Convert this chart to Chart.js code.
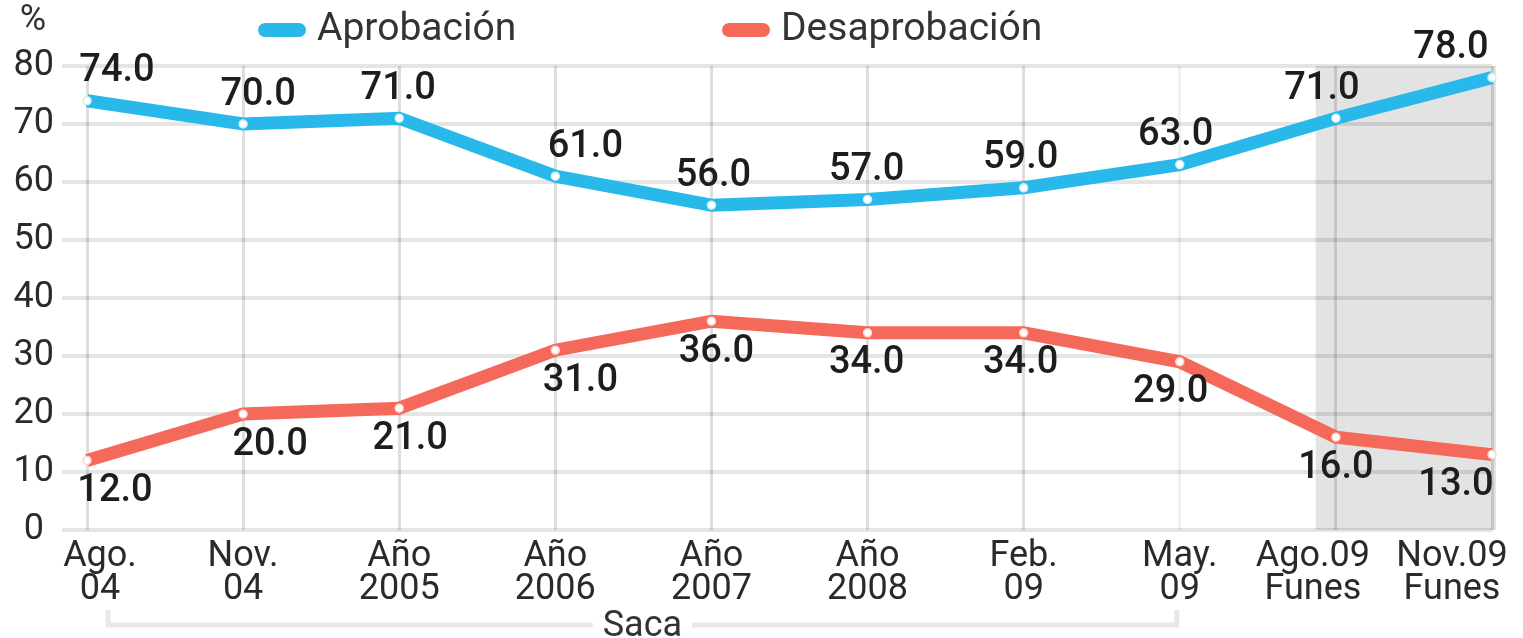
<!DOCTYPE html>
<html>
<head>
<meta charset="utf-8">
<script src="https://cdn.jsdelivr.net/npm/chart.js@4.4.1/dist/chart.umd.min.js"></script>
<style>
html,body{margin:0;padding:0;background:#fff;}
#wrap{width:1523px;height:638px;position:relative;}
</style>
</head>
<body>
<div id="wrap"><canvas id="c" width="1523" height="638"></canvas></div>
<script>
// ---- data ----
const categories = [["Ago.","04"],["Nov.","04"],["Año","2005"],["Año","2006"],["Año","2007"],["Año","2008"],["Feb.","09"],["May.","09"],["Ago.09","Funes"],["Nov.09","Funes"]];
const aprobacion = [74,70,71,61,56,57,59,63,71,78];
const desaprobacion = [12,20,21,31,36,34,34,29,16,13];
const yTicks = [0,10,20,30,40,50,60,70,80];
const seriesNames = ["Aprobación","Desaprobación"];
const bracketLabel = "Saca";

// ---- style ----
const FONT = "Roboto, 'Open Sans', sans-serif";
const BLUE = "#29b8ea";
const RED = "#f4695a";
const TEXT = "#1d1d1d";
const labelShiftApro = [30,15,-1,30,2,-1,-3,-4,-14,-41];
const labelShiftDesa = [28,27,11,25,5,-1,-3,-9,0,-36];
const tickShift = {0: 13, 8: -23, 9: -40};

const shadePlugin = {
  id: 'shade',
  beforeDraw(chart){
    const {ctx, chartArea:a, scales:{x}} = chart;
    const x8 = x.getPixelForValue(8), x9 = x.getPixelForValue(9);
    const left = x8 - (x9 - x8)*0.13;
    ctx.save();
    ctx.fillStyle = "#e3e3e3";
    ctx.fillRect(left, a.top, a.right - left + 4, a.bottom - a.top);
    ctx.restore();
    // nudge tick labels, as placed in the original
    const items = x.getLabelItems();
    items.forEach((it, i) => {
      if (tickShift[i] && !it._shifted) {
        it.options.translation[0] += tickShift[i];
        it._shifted = true;
      }
    });
  }
};

const labelPlugin = {
  id: 'vlabels',
  afterDatasetsDraw(chart){
    const ctx = chart.ctx;
    ctx.save();
    ctx.font = "500 38px " + FONT;
    ctx.fillStyle = TEXT;
    ctx.textAlign = "center";
    ctx.textBaseline = "middle";
    chart.data.datasets.forEach((ds, di) => {
      const meta = chart.getDatasetMeta(di);
      meta.data.forEach((pt, i) => {
        const shift = di === 0 ? labelShiftApro[i] : labelShiftDesa[i];
        const dy = di === 0 ? -29 : 31;
        ctx.fillText(ds.data[i].toFixed(1), pt.x + shift, pt.y + dy);
      });
    });
    ctx.restore();
  }
};

const decoPlugin = {
  id: 'deco',
  afterDraw(chart){
    const {ctx, scales:{x}} = chart;
    ctx.save();
    // percent sign
    ctx.font = "400 36px " + FONT;
    ctx.fillStyle = "#333";
    ctx.textAlign = "center";
    ctx.textBaseline = "middle";
    ctx.fillText("%", 33, 21);
    // legend
    const items = [{c:BLUE, t:seriesNames[0], x:258},{c:RED, t:seriesNames[1], x:722}];
    ctx.font = "400 39px " + FONT;
    ctx.textAlign = "left";
    items.forEach(it => {
      ctx.fillStyle = it.c;
      ctx.beginPath();
      ctx.roundRect(it.x, 23, 48, 14, 7);
      ctx.fill();
      ctx.fillStyle = "#333";
      ctx.fillText(it.t, it.x + 59, 30);
    });
    // bracket
    const xl = x.getPixelForValue(0) + 21, xr = x.getPixelForValue(7) - 3;
    const y = 625;
    ctx.font = "400 36px " + FONT;
    ctx.textAlign = "center";
    const mid = (xl + xr)/2;
    const tw = ctx.measureText(bracketLabel).width;
    ctx.strokeStyle = "#e8e8e8";
    ctx.lineWidth = 5;
    ctx.beginPath();
    ctx.moveTo(xl, 610); ctx.lineTo(xl, y); ctx.lineTo(mid - tw/2 - 10, y);
    ctx.moveTo(mid + tw/2 + 10, y); ctx.lineTo(xr, y); ctx.lineTo(xr, 610);
    ctx.stroke();
    ctx.fillStyle = "#333";
    ctx.fillText(bracketLabel, mid, y + 2);
    ctx.restore();
  }
};

new Chart(document.getElementById('c'), {
  type: 'line',
  data: {
    labels: categories,
    datasets: [
      { label: seriesNames[0], data: aprobacion, borderColor: BLUE, backgroundColor: BLUE,
        borderWidth: 13, tension: 0, pointRadius: 4, pointBackgroundColor: "#fff",
        pointBorderColor: "#c9eefa", pointBorderWidth: 1.5 },
      { label: seriesNames[1], data: desaprobacion, borderColor: RED, backgroundColor: RED,
        borderWidth: 13, tension: 0, pointRadius: 4, pointBackgroundColor: "#fff",
        pointBorderColor: "#fdd3ce", pointBorderWidth: 1.5 }
    ]
  },
  options: {
    responsive: false,
    animation: false,
    layout: { padding: { top: 66, right: 31, left: 0, bottom: 0 } },
    plugins: { legend: { display: false }, tooltip: { enabled: false } },
    scales: {
      x: {
        offset: false,
        grid: { drawTicks: false, lineWidth: 3,
          color: ctx => ctx.index === 7 ? "rgba(0,0,0,0.06)" : "rgba(0,0,0,0.13)" },
        border: { display: false },
        ticks: { autoSkip: false, maxRotation: 0, padding: 10, color: "#2a2a2a",
          font: { family: FONT, size: 36, weight: 400, lineHeight: 0.92 } },
        afterFit(s){ s.height = 108; s.paddingLeft = 0; s.paddingRight = 0; }
      },
      y: {
        min: 0, max: 80,
        afterBuildTicks(s){ s.ticks = yTicks.map(v => ({value: v})); },
        grid: { drawTicks: true, tickLength: 25, lineWidth: 4, color: "rgba(0,0,0,0.1)" },
        border: { display: false },
        ticks: { crossAlign: 'center', padding: 8, color: "#2a2a2a",
          font: { family: FONT, size: 36, weight: 400 } },
        afterFit(s){ s.width = 87; }
      }
    }
  },
  plugins: [shadePlugin, labelPlugin, decoPlugin]
});
</script>
</body>
</html>
